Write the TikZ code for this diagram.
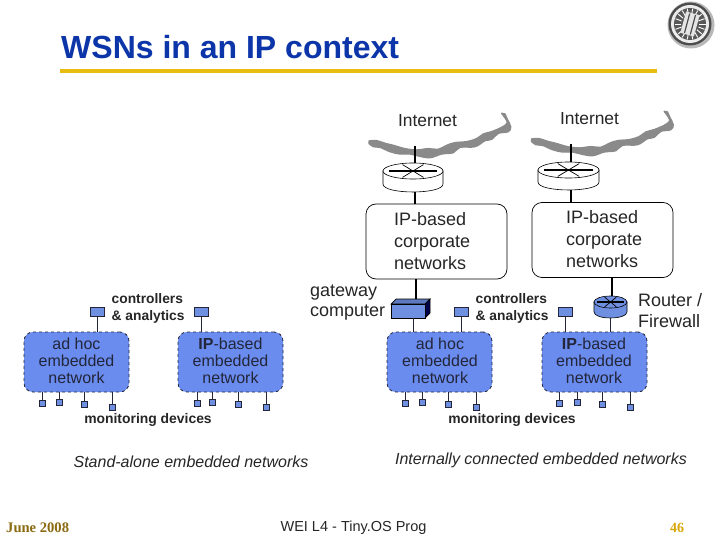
\documentclass[tikz,border=0pt]{standalone}
\usepackage{fontspec}
\setmainfont{Liberation Sans}
\newfontfamily\timesf{Liberation Serif}
\usetikzlibrary{shapes.geometric}
\definecolor{netblue}{HTML}{6A8CEE}
\definecolor{devblue}{HTML}{6F8FE0}
\definecolor{inkdark}{HTML}{23263A}
\definecolor{titleblue}{HTML}{0B35A8}
\definecolor{barcol}{HTML}{E9BC12}
\definecolor{cloudgray}{HTML}{8A8A8A}
\definecolor{datebrown}{HTML}{8A6A10}
\definecolor{pagegold}{HTML}{D9A808}
\newcommand{\fs}[2]{\fontsize{#1}{#2}\selectfont}
\newcommand{\cloudband}[2]{%
  \begin{scope}[shift={(#1,#2)},x=0.3333pt,y=-0.3333pt]
    \filldraw[fill=cloudgray,draw=cloudgray,line width=1.4pt,line join=round] plot[smooth,tension=0.6] coordinates {(27,153) (50,152) (75,160) (100,166) (135,176) (170,180) (205,176) (235,178) (260,166) (285,158) (320,155) (350,146) (370,132) (395,125) (425,112) (441,100) (438,88) (425,70)}
      -- plot[smooth,tension=0.6] coordinates {(435,72) (442,88) (452,110) (445,125) (415,130) (395,148) (375,152) (345,170) (300,172) (280,188) (245,192) (210,203) (175,198) (150,192) (120,192) (90,185) (60,172) (40,170) (27,160)} -- cycle;
  \end{scope}}
\newcommand{\routerdisk}[7]{% name, cx, top cy, rx, ry, depth, fill
  \path[draw=black,line width=0.6pt,fill=#7] (#2-#4,#3) -- (#2-#4,#3+#6) .. controls (#2-#4,#3+#6+#5*1.33) and (#2+#4,#3+#6+#5*1.33) .. (#2+#4,#3+#6) -- (#2+#4,#3) -- cycle;
  \node[ellipse,draw=black,line width=0.6pt,fill=#7,minimum width=#4*2pt,minimum height=#5*2pt,inner sep=0pt] (#1) at (#2,#3) {};
  \draw[line width=1.3pt] (#2-#4*0.8,#3) -- (#2+#4*0.8,#3);
  \draw[line width=0.7pt] (#2-#4*0.35,#3-#5*0.8) -- (#2+#4*0.35,#3+#5*0.8);
  \draw[line width=0.7pt] (#2+#4*0.35,#3-#5*0.8) -- (#2-#4*0.35,#3+#5*0.8);
}
\tikzset{
  x=1pt,y=-1pt,
  netbox/.style={draw=inkdark,dashed,line width=0.8pt,fill=netblue,rounded corners=9pt,minimum width=105pt,minimum height=60pt,inner sep=0pt},
  nettext/.style={inner sep=0pt,text=inkdark,align=center,font=\fs{16}{17}},
  corpbox/.style={draw=black,line width=0.7pt,rounded corners=10pt,minimum width=141pt,minimum height=75pt,inner sep=0pt},
  corptext/.style={align=left,inner sep=0pt,font=\fs{18}{22},text=black!85},
  ctrl/.style={draw=inkdark,line width=0.7pt,fill=devblue,minimum width=14.5pt,minimum height=9pt,inner sep=0pt},
  device/.style={draw=inkdark,line width=0.7pt,fill=devblue,minimum width=6pt,minimum height=6pt,inner sep=0pt},
  boldlabel/.style={align=left,inner sep=0pt,font=\fs{13.8}{17}\bfseries,text=black!85},
  biglabel/.style={align=left,inner sep=0pt,font=\fs{18}{21},text=black!85},
  wire/.style={draw=inkdark,line width=0.8pt},
  thick wire/.style={draw=black,line width=1.7pt},
}
\begin{document}
\begin{tikzpicture}
\useasboundingbox (0,0) rectangle (720,540);
\fill[white] (0,0) rectangle (720,540);
% title
\node[anchor=west,inner sep=0pt,text=titleblue,font=\fs{32}{34}\bfseries] (title) at (61,47) {WSNs in an IP context};
\fill[barcol] (60,69.5) rectangle (657,73.5);
% logo
\fill[gray!55] (691,25) circle[radius=23.5];
\fill[black!70] (690,24) circle[radius=21.5];
\fill[white!85!gray] (690,24) circle[radius=19];
\fill[black!65] (690,24) circle[radius=16];
\foreach \a in {0,20,...,340}{\draw[white,line width=0.9pt] (690,24) ++(\a:9) -- ++(\a:6.5);}
\fill[white!80!gray,rotate around={-15:(690,24)}] (683,13) rectangle (697,35);
\draw[black!70,line width=1.2pt,rotate around={-15:(690,24)}] (687,14) -- (687,34) (693,14) -- (693,34);
% clouds
\cloudband{360}{90}
\cloudband{522.5}{88}
\node[inner sep=0pt,font=\fs{17.4}{20},text=black!85] (inetL) at (427.5,121) {Internet};
\node[inner sep=0pt,font=\fs{17.4}{20},text=black!85] (inetR) at (589.5,119) {Internet};
\coordinate (cloudL) at (415,146);
\coordinate (cloudR) at (571,144);
% corporate networks
\node[corpbox] (corpL) at (436.5,241.5) {};
\node[corpbox] (corpR) at (602.5,240) {};
\node[corptext,anchor=west] (corpLt) at (394,241.5) {IP-based\\corporate\\networks};
\node[corptext,anchor=west] (corpRt) at (566,239.5) {IP-based\\corporate\\networks};
% routers
\draw[thick wire] (cloudL) -- (415,172);
\draw[thick wire] (cloudR) -- (571,170);
\routerdisk{rtL}{413}{171}{30}{8}{13}{white}
\routerdisk{rtR}{568.5}{170}{30.5}{8}{12}{white}
\draw[thick wire] (415,192) -- (corpL.north -| 415,0);
\draw[thick wire] (571,190) -- (corpR.north -| 571,0);
% embedded networks
\node[netbox] (n1) at (76.5,362) {};
\node[netbox] (n2) at (230.5,362) {};
\node[netbox] (n3) at (439.5,362) {};
\node[netbox] (n4) at (594.5,362) {};
\node[nettext] (n1t) at (76.5,361) {ad hoc\\embedded\\network};
\node[nettext] (n2t) at (230.5,361) {\textbf{IP}-based\\embedded\\network};
\node[nettext] (n3t) at (440,361) {ad hoc\\embedded\\network};
\node[nettext] (n4t) at (594,361) {\textbf{IP}-based\\embedded\\network};
% controllers
\node[ctrl] (c1) at (97.5,311.5) {};
\node[ctrl] (c2) at (201.5,311.5) {};
\node[ctrl] (c3) at (461.5,311.5) {};
\node[ctrl] (c4) at (565.5,311.5) {};
\draw[wire] (c1.south) -- (n1.north -| c1.south);
\draw[wire] (c2.south) -- (n2.north -| c2.south);
\draw[wire] (c3.south) -- (n3.north -| c3.south);
\draw[wire] (c4.south) -- (n4.north -| c4.south);
\node[boldlabel,anchor=west] (l1) at (111.5,308.5) {controllers\\\& analytics};
\node[boldlabel,anchor=west] (l2) at (475.5,308.5) {controllers\\\& analytics};
% devices
\foreach \nm/\net/\px/\py in {a1/n1/42/403,a2/n1/59/402,a3/n1/84/404,a4/n1/112/407,
  b1/n2/197/403,b2/n2/212/402,b3/n2/238/404,b4/n2/266/407,
  c5/n3/405/403,c6/n3/422/402,c7/n3/448/404,c8/n3/476/407,
  d1/n4/559/403,d2/n4/577/402,d3/n4/602/404,d4/n4/630/407}{
  \node[device] (\nm) at (\px,\py) {};
  \draw[wire] (\nm.north) -- (\net.south -| \nm.north);
}
\node[inner sep=0pt,font=\fs{13.9}{16}\bfseries,text=black!85] (m1) at (148,419.5) {monitoring devices};
\node[inner sep=0pt,font=\fs{13.9}{16}\bfseries,text=black!85] (m2) at (512,419.5) {monitoring devices};
% gateway
\fill[devblue!85!black,draw=black,line width=0.7pt] (391,304) -- (396,299) -- (430,299) -- (425,304) -- cycle;
\fill[black!70!blue,draw=black,line width=0.7pt] (425,304) -- (430,299) -- (430,313) -- (425,318) -- cycle;
\node[draw=black,line width=0.8pt,fill=devblue,minimum width=34pt,minimum height=14pt,inner sep=0pt] (gw) at (408,311) {};
\coordinate (gwtop) at (416,299);
\draw[thick wire] (corpL.south -| gwtop) -- (gwtop);
\draw[wire] (gw.south -| 413,0) -- (n3.north -| 413,0);
\node[align=left,inner sep=0pt,font=\fs{18}{20},text=black!85,anchor=west] (gwl) at (310,303) {gateway\\computer};
% firewall router
\draw[thick wire] (corpR.south -| 612,0) -- (612,297);
\routerdisk{fw}{610.5}{302}{16.5}{6}{10}{devblue}
\draw[wire] (610.5,318) -- (n4.north -| 610.5,0);
\node[biglabel,anchor=west] (fwl) at (638,311) {Router /\\Firewall};
% captions
\node[inner sep=0pt,font=\fs{16}{18}\itshape,text=black!85] (cap1) at (191,462) {Stand-alone embedded networks};
\node[inner sep=0pt,font=\fs{16}{18}\itshape,text=black!85] (cap2) at (541,460) {Internally connected embedded networks};
% footer
\node[anchor=west,inner sep=0pt,text=datebrown,font=\timesf\fs{14.6}{16}\bfseries] (date) at (6,528) {June 2008};
\node[inner sep=0pt,font=\fs{14.5}{16},text=black!85] (foot) at (353.5,528) {WEI L4 - Tiny.OS Prog};
\node[inner sep=0pt,text=pagegold,font=\timesf\fs{14}{16}\bfseries] (page) at (677,528) {46};
\end{tikzpicture}
\end{document}
